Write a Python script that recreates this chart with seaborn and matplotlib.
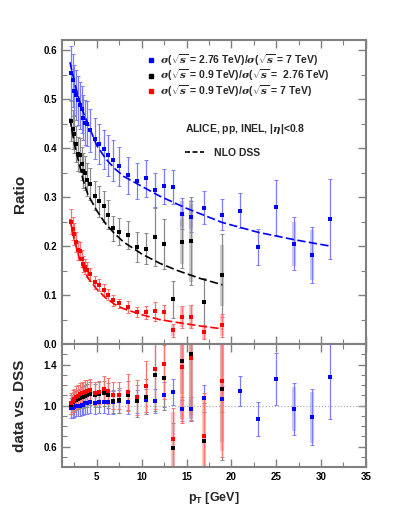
import numpy as np
import pandas as pd
import matplotlib
matplotlib.use("Agg")
import matplotlib.pyplot as plt
from matplotlib.lines import Line2D
from matplotlib.ticker import MultipleLocator, FixedLocator
import seaborn as sns

# ------------------------------------------ DATA ------------------------------------------------#
pt_bins = [2.1, 2.3, 2.5, 2.7, 2.9, 3.1, 3.3, 3.5, 3.7, 3.9, 4.25, 4.75, 5.25, 5.75, 6.25, 6.75,
           7.5, 8.5, 9.5, 10.5, 11.5, 12.5, 13.5, 14.5, 15.5, 17, 19, 21, 23, 25, 27, 29, 31]

# sigma(2.76 TeV)/sigma(7 TeV)
ratio_blue = [0.553, 0.538, 0.517, 0.508, 0.497, 0.487, 0.479, 0.462, 0.452, 0.450, 0.436, 0.419,
              0.408, 0.398, 0.385, 0.375, 0.363, 0.344, 0.332, 0.338, 0.315, 0.322, 0.320, 0.266,
              0.260, 0.278, 0.264, 0.272, 0.198, 0.279, 0.205, 0.182, 0.255]
# sigma(0.9 TeV)/sigma(2.76 TeV)
ratio_black = [0.455, 0.438, 0.429, 0.409, 0.387, 0.385, 0.368, 0.354, 0.349, 0.335, 0.327, 0.303,
               0.291, 0.281, 0.264, 0.236, 0.229, 0.222, 0.198, 0.195, 0.219, 0.204, 0.091, 0.209,
               0.210, 0.086, 0.140]
# sigma(0.9 TeV)/sigma(7 TeV)
ratio_red = [0.250, 0.235, 0.225, 0.208, 0.191, 0.190, 0.174, 0.164, 0.158, 0.152, 0.142, 0.126,
             0.120, 0.111, 0.101, 0.089, 0.083, 0.076, 0.065, 0.065, 0.067, 0.065, 0.028, 0.056,
             0.056, 0.024, 0.038]

# relative uncertainties (stat + syst)
rel_blue = [0.10, 0.10, 0.10, 0.10, 0.10, 0.10, 0.10, 0.10, 0.10, 0.10, 0.10, 0.10, 0.10, 0.10,
            0.11, 0.11, 0.11, 0.11, 0.11, 0.11, 0.11, 0.11, 0.11, 0.12, 0.12, 0.12, 0.12, 0.13,
            0.19, 0.20, 0.26, 0.31, 0.32]
rel_black = [0.09, 0.09, 0.09, 0.09, 0.09, 0.09, 0.09, 0.10, 0.10, 0.10, 0.10, 0.10, 0.11, 0.11,
             0.11, 0.11, 0.12, 0.13, 0.15, 0.16, 0.27, 0.25, 0.41, 0.26, 0.43, 0.57, 0.60]
rel_red = [0.10, 0.10, 0.10, 0.10, 0.10, 0.10, 0.10, 0.10, 0.10, 0.10, 0.10, 0.10, 0.10, 0.11,
           0.11, 0.12, 0.12, 0.16, 0.16, 0.21, 0.29, 0.24, 0.45, 0.40, 0.42, 0.60, 0.60]
# relative systematic part drawn as a wide band (0 = none visible)
sys_blue = [0] * 23 + [0.10, 0.10, 0, 0, 0, 0, 0, 0.22, 0.28, 0]
sys_black = [0] * 20 + [0, 0, 0, 0.22, 0.40, 0, 0.45]
sys_red = [0] * 20 + [0, 0, 0.40, 0.38, 0.40, 0.55, 0.55]

# data / NLO DSS
dvd_blue = [0.975, 0.98, 0.99, 0.995, 1.0, 1.0, 1.01, 1.01, 1.02, 1.02, 1.03, 1.02, 1.03, 1.035,
            1.03, 1.03, 1.04, 1.03, 1.04, 1.05, 1.046, 1.105, 1.13, 0.967, 0.967, 1.07, 1.066,
            1.144, 0.866, 1.26, 0.965, 0.886, 1.275]
dvd_black = [1.01, 1.03, 1.04, 1.05, 1.06, 1.07, 1.08, 1.08, 1.09, 1.10, 1.115, 1.10, 1.11, 1.12,
             1.10, 1.04, 1.05, 1.10, 1.046, 1.088, 1.294, 1.27, 0.59, 1.43, 1.507, 0.654, 1.164]
dvd_red = [1.02, 1.046, 1.06, 1.08, 1.09, 1.11, 1.12, 1.12, 1.137, 1.14, 1.147, 1.12, 1.13, 1.16,
           1.14, 1.10, 1.10, 1.13, 1.08, 1.186, 1.357, 1.405, 0.67, 1.38, 1.465, 0.703, 1.242]

# NLO DSS curves
dss_pt_blue = [2.0, 2.5, 3.0, 3.5, 4.0, 5.0, 6.0, 7.0, 8.0, 10.0, 12.0, 15.0, 19.0, 23.0, 27.0, 31.0]
dss_blue = [0.575, 0.535, 0.50, 0.472, 0.45, 0.405, 0.378, 0.358, 0.342, 0.322, 0.302, 0.277,
            0.248, 0.228, 0.213, 0.200]
dss_pt_lo = [2.0, 2.5, 3.0, 3.5, 4.0, 5.0, 6.0, 7.0, 8.0, 10.0, 12.0, 14.0, 16.5, 19.0]
dss_black = [0.46, 0.408, 0.37, 0.333, 0.305, 0.272, 0.245, 0.225, 0.208, 0.184, 0.165, 0.150,
             0.134, 0.121]
dss_red = [0.255, 0.212, 0.178, 0.155, 0.135, 0.112, 0.094, 0.081, 0.072, 0.060, 0.050, 0.044,
           0.037, 0.031]

labels = [r"$\sigma$($\sqrt{s}$ = 2.76 TeV)/$\sigma$($\sqrt{s}$ = 7 TeV)",
          r"$\sigma$($\sqrt{s}$ = 0.9 TeV)/$\sigma$($\sqrt{s}$ =  2.76 TeV)",
          r"$\sigma$($\sqrt{s}$ = 0.9 TeV)/$\sigma$($\sqrt{s}$ = 7 TeV)"]

# ------------------------------------------ STYLE ------------------------------------------------#
sns.set_style("ticks")
plt.rcParams["font.family"] = ["Liberation Sans", "DejaVu Sans"]
plt.rcParams["font.weight"] = "bold"
plt.rcParams["mathtext.fontset"] = "custom"
plt.rcParams["mathtext.rm"] = "Liberation Sans:bold"
plt.rcParams["mathtext.bf"] = "Liberation Sans:bold"
plt.rcParams["mathtext.it"] = "DejaVu Serif:italic"
plt.rcParams["mathtext.fallback"] = "cm"

spine_col = "#808080"
series = [
    (pt_bins, ratio_blue, rel_blue, sys_blue, dvd_blue, dss_pt_blue, dss_blue, "#0000ff", "#7c7cff"),
    (pt_bins[:27], ratio_black, rel_black, sys_black, dvd_black, dss_pt_lo, dss_black, "#000000", "#8a8a8a"),
    (pt_bins[:27], ratio_red, rel_red, sys_red, dvd_red, dss_pt_lo, dss_red, "#ff0000", "#ff7070"),
]

fig = plt.figure(figsize=(4.07, 5.09), dpi=100)
ax1 = fig.add_axes([0.152, 0.324, 0.747, 0.597])
ax2 = fig.add_axes([0.152, 0.0825, 0.747, 0.2415])

for x, y, rel, sys_rel, dvd, dx, dy, col, ecol in series:
    x = np.array(x)
    y = np.array(y)
    rel = np.array(rel)
    sys_rel = np.array(sys_rel, dtype=float)
    dvd = np.array(dvd)
    df = pd.DataFrame({"pt": x, "ratio": y, "dvd": dvd})
    has_sys = sys_rel > 0
    for ax, vals in ((ax1, y), (ax2, dvd)):
        ax.errorbar(x, vals, yerr=vals * rel, fmt="none", ecolor=ecol, elinewidth=0.9,
                    capsize=1.6, capthick=0.7, zorder=2)
        ax.errorbar(x[has_sys], vals[has_sys], yerr=vals[has_sys] * sys_rel[has_sys], fmt="none",
                    ecolor=ecol, elinewidth=3.0, alpha=0.4, zorder=2)
    sns.lineplot(x=dx, y=dy, ax=ax1, color=col, lw=1.2, linestyle=(0, (5, 2)), zorder=3)
    sns.scatterplot(data=df, x="pt", y="ratio", ax=ax1, color=col, marker="s", s=10,
                    linewidth=0, zorder=4)
    sns.scatterplot(data=df, x="pt", y="dvd", ax=ax2, color=col, marker="s", s=10,
                    linewidth=0, zorder=4)

ax2.axhline(1.0, color="#b0b0b0", ls=(0, (1, 1.5)), lw=0.9, zorder=1)

for ax in (ax1, ax2):
    ax.set_xlim(1.1, 35)
    ax.xaxis.set_major_locator(MultipleLocator(5))
    ax.xaxis.set_minor_locator(MultipleLocator(2.5))
    ax.tick_params(which="both", direction="in", top=True, right=True, colors=spine_col,
                   labelcolor="black", labelsize=7)
    ax.tick_params(which="major", length=6, width=1.0)
    ax.tick_params(which="minor", length=3.5, width=0.8)
    for sp in ax.spines.values():
        sp.set_color(spine_col)
        sp.set_linewidth(1.5)
    ax.set_xlabel("")
    ax.set_ylabel("")

ax1.set_ylim(0, 0.62)
ax1.yaxis.set_major_locator(MultipleLocator(0.1))
ax1.yaxis.set_minor_locator(MultipleLocator(0.05))
ax1.tick_params(labelbottom=False)
ax1.yaxis.set_major_formatter(matplotlib.ticker.FormatStrFormatter("%.1f"))

ax2.set_ylim(0.4, 1.6)
ax2.yaxis.set_major_locator(FixedLocator([0.6, 1.0, 1.4]))
ax2.yaxis.set_minor_locator(MultipleLocator(0.1))
ax2.yaxis.set_major_formatter(matplotlib.ticker.FormatStrFormatter("%.1f"))

fig.text(0.05, 0.62, "Ratio", rotation=90, ha="center", va="center", fontsize=11, fontweight="bold")
fig.text(0.05, 0.203, "data vs. DSS", rotation=90, ha="center", va="center", fontsize=11,
         fontweight="bold")
ax2.set_xlabel(r"p$_\mathrm{T}$ [GeV]", fontsize=9, fontweight="bold", labelpad=6)

handles = [Line2D([], [], color=s[7], marker="s", ms=3, ls="none") for s in series]
leg = ax1.legend(handles, labels, loc="upper left", bbox_to_anchor=(0.27, 0.975), frameon=False,
                 fontsize=7.5, handlelength=0.6, handletextpad=0.5, labelspacing=0.0,
                 borderaxespad=0)
ax1.add_artist(leg)
ax1.text(0.405, 0.707, r"ALICE, pp, INEL, $|\eta|$<0.8", transform=ax1.transAxes, fontsize=7.5,
         fontweight="bold", va="center")
dss_handle = [Line2D([], [], color="black", lw=1.2, ls=(0, (3, 1.5)))]
ax1.legend(dss_handle, ["NLO DSS"], loc="center left", bbox_to_anchor=(0.39, 0.629), frameon=False,
           fontsize=7.5, handlelength=1.9, handletextpad=0.9, borderaxespad=0)

fig.savefig("out.png", dpi=100)
